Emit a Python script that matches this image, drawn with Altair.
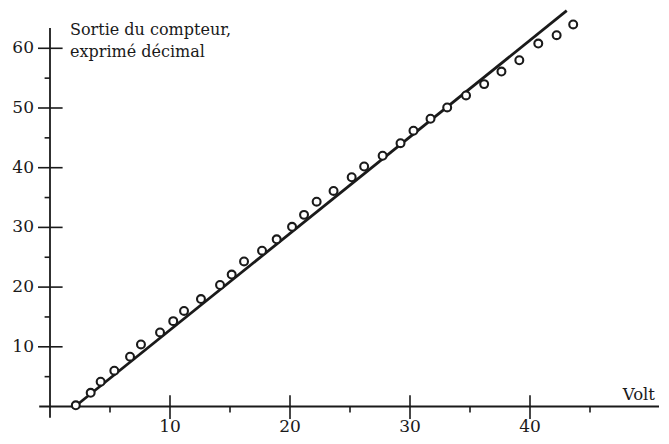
import altair as alt
import pandas as pd

# measured points (Volt, counter output)
volts = [2.15, 3.39, 4.22, 5.36, 6.67, 7.58, 9.17, 10.27, 11.17, 12.58, 14.17,
         15.14, 16.17, 17.67, 18.89, 20.17, 21.17, 22.22, 23.63, 25.14, 26.18,
         27.72, 29.21, 30.29, 31.71, 33.1, 34.67, 36.18, 37.62, 39.11, 40.69,
         42.22, 43.6]
counts = [0.2, 2.3, 4.15, 6.0, 8.34, 10.4, 12.4, 14.3, 16.0, 18.0, 20.35,
          22.1, 24.3, 26.1, 28.0, 30.1, 32.1, 34.3, 36.1, 38.4, 40.2,
          42.0, 44.1, 46.2, 48.2, 50.1, 52.1, 54.0, 56.1, 58.0, 60.8,
          62.2, 64.0]

# ideal straight line endpoints
line_x = [2.08, 43.06]
line_y = [0.0, 66.3]

x_major = [10, 20, 30, 40]
x_minor = [5, 15, 25, 35, 45]
y_major = [10, 20, 30, 40, 50, 60]
y_minor = [5, 15, 25, 35, 45, 55]

title_lines = ["Sortie du compteur,", "exprimé décimal"]
x_title = "Volt"

FONT = "DejaVu Serif"
INK = "#1a1a1a"
W, H = 653, 428
xs = alt.Scale(domain=[-3.5, 50.9167], nice=False, zero=False)
ys = alt.Scale(domain=[-4.941, 66.75], nice=False, zero=False)

pts = pd.DataFrame({"x": volts, "y": counts})
ln = pd.DataFrame({"x": line_x, "y": line_y})


def X(f="x"):
    return alt.X(f"{f}:Q", scale=xs, axis=None)


def Y(f="y"):
    return alt.Y(f"{f}:Q", scale=ys, axis=None)


def vrules(xvals, lo, hi, sw=1.6):
    df = pd.DataFrame({"x": xvals, "y": [lo] * len(xvals), "y2": [hi] * len(xvals)})
    return alt.Chart(df).mark_rule(color=INK, strokeWidth=sw).encode(
        x=X(), y=Y(), y2="y2:Q")


def hrules(yvals, lo, hi, sw=1.6):
    df = pd.DataFrame({"y": yvals, "x": [lo] * len(yvals), "x2": [hi] * len(yvals)})
    return alt.Chart(df).mark_rule(color=INK, strokeWidth=sw).encode(
        y=Y(), x=X(), x2="x2:Q")


haxis = hrules([0], -0.9, 50.75, 1.8)
vaxis = vrules([0], -1.9, 63.4, 1.8)
xmaj = vrules(x_major, -2.1, 1.9)
xmin = vrules(x_minor, -1.0, 0)
ymaj = hrules(y_major, -1.0, 1.05)
ymin = hrules(y_minor, -0.45, 0)

xlab = alt.Chart(pd.DataFrame({"x": x_major, "t": [str(v) for v in x_major]})).mark_text(
    font=FONT, fontSize=17, baseline="alphabetic", align="center", color=INK).encode(
    x=X(), y=alt.value(424), text="t:N")
ylab = alt.Chart(pd.DataFrame({"y": y_major, "t": [str(v) for v in y_major]})).mark_text(
    font=FONT, fontSize=17, baseline="middle", align="right", color=INK).encode(
    y=Y(), x=alt.value(26), text="t:N")

line = alt.Chart(ln).mark_line(color=INK, strokeWidth=2.8).encode(x=X(), y=Y())
points = alt.Chart(pts).mark_point(
    shape="circle", filled=False, fill="white", fillOpacity=1, color=INK,
    strokeWidth=2.1, size=62, opacity=1).encode(x=X(), y=Y())

ytitle = alt.Chart(pd.DataFrame({"a": [0]})).mark_text(
    text=title_lines, font=FONT, fontSize=16, lineHeight=22, align="left",
    baseline="alphabetic", color=INK).encode(x=alt.value(62), y=alt.value(27))
xtitle = alt.Chart(pd.DataFrame({"a": [0]})).mark_text(
    text=x_title, font=FONT, fontSize=16.5, align="right",
    baseline="alphabetic", color=INK).encode(x=alt.value(647), y=alt.value(392))

chart = alt.layer(haxis, vaxis, xmaj, xmin, ymaj, ymin, xlab, ylab, line, points,
                  ytitle, xtitle).properties(
    width=W, height=H, padding=0, autosize="none", background="white"
).configure_view(stroke=None)

chart.save("out.html", embed_options={"renderer": "svg", "actions": False})
